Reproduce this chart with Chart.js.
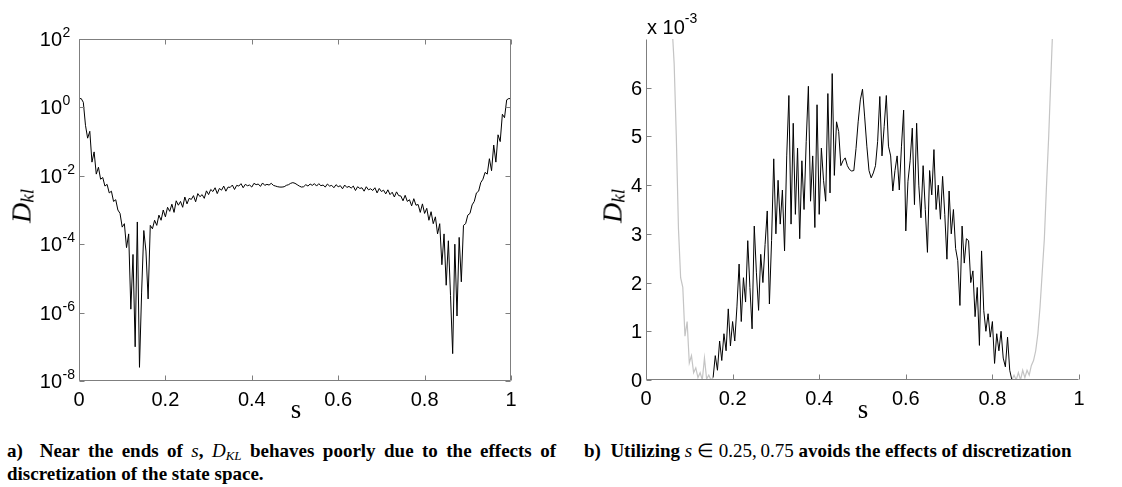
<!DOCTYPE html>
<html>
<head>
<meta charset="utf-8">
<script src="https://cdn.jsdelivr.net/npm/chart.js@4.4.1/dist/chart.umd.min.js"></script>
<style>
  body { margin: 0; background: #fff; width: 1122px; height: 487px; position: relative; overflow: hidden; }
  .panel { position: absolute; top: 0; width: 561px; height: 420px; }
  .ylab { position: absolute; font-family: "Liberation Serif", "Times New Roman", serif; font-size: 28px; line-height: 1;
          white-space: nowrap; transform: translate(-50%, -50%) rotate(-90deg); color: #000; }
  .ylab sub { font-size: 19px; font-style: italic; vertical-align: -3px; }
  .xlab { position: absolute; top: 396px; font-family: "Liberation Serif", "Times New Roman", serif; font-size: 27px;
          line-height: 1; transform: translateX(-50%); color: #000; }
  .cap { position: absolute; top: 442px; font-family: "Liberation Serif", "Times New Roman", serif; font-weight: bold;
         font-size: 19px; line-height: 18px; color: #000; white-space: nowrap; }
  .cap .m { font-weight: normal; }
  .cap sub { font-size: 13px; vertical-align: -3px; font-style: italic; }
  .just { text-align: justify; text-align-last: justify; }
</style>
</head>
<body>
<div class="panel" style="left:0"><canvas id="chartLeft" width="561" height="420"></canvas></div>
<div class="panel" style="left:561px"><canvas id="chartRight" width="561" height="420"></canvas></div>

<div class="ylab" style="left:22px; top:206px;"><i>D</i><sub>kl</sub></div>
<div class="ylab" style="left:613px; top:206px;"><i>D</i><sub>kl</sub></div>
<div class="xlab" style="left:296px;">s</div>
<div class="xlab" style="left:863px;">s</div>

<div class="cap" style="left:7px; width:549px;">
  <div class="just">a)&nbsp; Near the ends of <span class="m"><i>s</i></span>, <span class="m"><i>D</i><sub>KL</sub></span> behaves poorly due to the effects of</div>
  <div>discretization of the state space.</div>
</div>
<div class="cap" style="left:584px;">b)&nbsp; Utilizing <span class="m"><i>s</i> &isin; 0.25,&thinsp;0.75</span> avoids the effects of discretization</div>

<script>
// sample positions along s (shared by both panels)
const sGrid = [
  0.000, 0.005, 0.010, 0.015, 0.020, 0.025, 0.030, 0.035, 0.040, 0.045,
  0.050, 0.055, 0.060, 0.065, 0.070, 0.075, 0.080, 0.085, 0.090, 0.095,
  0.100, 0.105, 0.110, 0.115, 0.120, 0.125, 0.130, 0.135, 0.140, 0.145,
  0.150, 0.155, 0.160, 0.165, 0.170, 0.175, 0.180, 0.185, 0.190, 0.195,
  0.200, 0.205, 0.210, 0.215, 0.220, 0.225, 0.230, 0.235, 0.240, 0.245,
  0.250, 0.255, 0.260, 0.265, 0.270, 0.275, 0.280, 0.285, 0.290, 0.295,
  0.300, 0.305, 0.310, 0.315, 0.320, 0.325, 0.330, 0.335, 0.340, 0.345,
  0.350, 0.355, 0.360, 0.365, 0.370, 0.375, 0.380, 0.385, 0.390, 0.395,
  0.400, 0.405, 0.410, 0.415, 0.420, 0.425, 0.430, 0.435, 0.440, 0.445,
  0.450, 0.455, 0.460, 0.465, 0.470, 0.475, 0.480, 0.485, 0.490, 0.495,
  0.500, 0.505, 0.510, 0.515, 0.520, 0.525, 0.530, 0.535, 0.540, 0.545,
  0.550, 0.555, 0.560, 0.565, 0.570, 0.575, 0.580, 0.585, 0.590, 0.595,
  0.600, 0.605, 0.610, 0.615, 0.620, 0.625, 0.630, 0.635, 0.640, 0.645,
  0.650, 0.655, 0.660, 0.665, 0.670, 0.675, 0.680, 0.685, 0.690, 0.695,
  0.700, 0.705, 0.710, 0.715, 0.720, 0.725, 0.730, 0.735, 0.740, 0.745,
  0.750, 0.755, 0.760, 0.765, 0.770, 0.775, 0.780, 0.785, 0.790, 0.795,
  0.800, 0.805, 0.810, 0.815, 0.820, 0.825, 0.830, 0.835, 0.840, 0.845,
  0.850, 0.855, 0.860, 0.865, 0.870, 0.875, 0.880, 0.885, 0.890, 0.895,
  0.900, 0.905, 0.910, 0.915, 0.920, 0.925, 0.930, 0.935, 0.940, 0.945,
  0.950, 0.955, 0.960, 0.965, 0.970, 0.975, 0.980, 0.985, 0.990, 0.995,
  1.000
];

// panel a: D_kl over the whole state space (log axis)
const dklFull = [
  1.78, 1.82, 1.41, 0.3, 0.126, 0.2, 0.0251, 0.05, 0.0112, 0.0178,
  7.94e-3, 8.91e-3, 5.01e-3, 5.62e-3, 3.16e-3, 3.55e-3, 1.78e-3, 2.0e-3, 1.0e-3, 7.94e-4,
  3.16e-4, 3.98e-4, 7.94e-5, 2.0e-4, 1.26e-6, 5.01e-5, 1.0e-7, 4.47e-4, 2.51e-8, 3.98e-6,
  2.51e-4, 6.31e-5, 2.51e-6, 3.55e-4, 2.82e-4, 5.01e-4, 3.55e-4, 7.08e-4, 5.01e-4, 1.0e-3,
  6.31e-4, 1.2e-3, 9.12e-4, 1.48e-3, 8.51e-4, 1.86e-3, 1.38e-3, 1.78e-3, 1.2e-3, 2.4e-3,
  1.51e-3, 2.19e-3, 2.04e-3, 2.63e-3, 1.74e-3, 3.02e-3, 2.45e-3, 2.82e-3, 2.19e-3, 3.63e-3,
  2.82e-3, 3.98e-3, 3.47e-3, 4.47e-3, 3.02e-3, 4.27e-3, 3.8e-3, 5.01e-3, 3.55e-3, 4.68e-3,
  4.57e-3, 5.37e-3, 3.98e-3, 5.25e-3, 5.01e-3, 5.89e-3, 4.47e-3, 5.62e-3, 5.13e-3, 5.37e-3,
  4.68e-3, 6.03e-3, 5.5e-3, 5.75e-3, 4.9e-3, 6.17e-3, 5.25e-3, 5.62e-3, 5.37e-3, 6.03e-3,
  5.25e-3, 5.01e-3, 4.79e-3, 4.68e-3, 4.68e-3, 4.79e-3, 5.25e-3, 5.5e-3, 6.03e-3, 6.31e-3,
  6.03e-3, 5.5e-3, 5.01e-3, 4.68e-3, 4.79e-3, 5.5e-3, 5.01e-3, 5.75e-3, 5.25e-3, 5.89e-3,
  5.01e-3, 5.89e-3, 5.13e-3, 5.37e-3, 4.68e-3, 5.75e-3, 5.01e-3, 5.25e-3, 4.47e-3, 5.5e-3,
  4.79e-3, 5.13e-3, 4.17e-3, 5.37e-3, 4.57e-3, 4.9e-3, 4.37e-3, 5.01e-3, 3.72e-3, 4.79e-3,
  4.27e-3, 4.47e-3, 3.55e-3, 4.79e-3, 3.89e-3, 4.17e-3, 3.72e-3, 4.47e-3, 3.16e-3, 4.27e-3,
  3.47e-3, 3.8e-3, 2.95e-3, 3.89e-3, 2.82e-3, 3.31e-3, 2.4e-3, 3.39e-3, 2.63e-3, 2.57e-3,
  1.86e-3, 2.69e-3, 1.78e-3, 2.0e-3, 1.32e-3, 2.14e-3, 1.38e-3, 1.45e-3, 8.51e-4, 1.51e-3,
  7.94e-4, 1.12e-3, 5.01e-4, 8.91e-4, 3.98e-4, 6.31e-4, 2.0e-4, 3.98e-4, 2.51e-5, 2.0e-4,
  6.31e-6, 1.26e-4, 3.16e-6, 6.31e-8, 1.0e-4, 7.94e-7, 1.58e-4, 7.94e-6, 3.55e-4, 3.98e-4,
  7.08e-4, 7.94e-4, 1.41e-3, 1.78e-3, 3.16e-3, 3.55e-3, 6.31e-3, 7.94e-3, 0.0126, 0.0112,
  0.0316, 0.0141, 0.0794, 0.0251, 0.158, 0.1, 0.631, 0.5, 1.66, 1.82,
  1.78
];

// panel b: values in units of 1e-3
// grey part near s = 0 (sGrid index 10 .. 31)
const grayLowStart = 10;
const dklGrayLow = [
  9.5, 8.4, 7.3, 6.5, 5.0, 3.1, 2.1, 1.9, 0.9, 1.2,
  0.35, 0.5, 0.15, 0.25, 0.05, 0.15, 0.0, 0.45, 0.02, 0.1,
  0.0, 0.05
];
// black middle part (sGrid index 31 .. 169)
const blackStart = 31;
const dklMiddle = [
  0.05, 0.5, 0.2, 0.8, 0.4, 0.95, 0.6, 1.46, 0.7, 1.2,
  0.8, 1.5, 2.38, 1.2, 2.1, 1.6, 2.86, 1.9, 1.05, 3.16,
  2.2, 1.43, 2.58, 2.0, 2.78, 3.47, 1.56, 2.86, 4.54, 3.0,
  4.1, 3.2, 3.9, 2.65, 4.6, 5.84, 3.2, 5.27, 3.4, 4.76,
  2.9, 4.5, 3.5, 4.9, 6.03, 3.67, 4.6, 3.13, 5.65, 3.4,
  4.76, 4.1, 3.67, 5.88, 3.84, 6.29, 4.2, 5.3, 5.1, 4.4,
  4.5, 4.56, 4.4, 4.32, 4.29, 4.3, 4.75, 5.3, 5.75, 5.97,
  5.4, 4.8, 4.3, 4.15, 4.25, 4.4, 4.9, 5.82, 4.6, 5.2,
  5.84, 4.8, 4.6, 3.88, 4.3, 4.6, 3.9, 4.8, 5.54, 3.06,
  4.08, 4.5, 5.17, 3.6, 5.27, 4.0, 3.33, 4.4, 3.5, 2.62,
  4.3, 3.8, 4.73, 3.5, 4.0, 3.3, 4.18, 3.4, 2.48, 3.88,
  3.0, 3.5, 2.7, 2.45, 1.53, 3.16, 2.4, 2.9, 2.86, 2.0,
  2.24, 1.3, 1.9, 0.71, 2.65, 1.43, 1.0, 1.36, 0.88, 1.2,
  0.34, 0.95, 0.6, 1.0, 0.45, 0.27, 0.88, 0.2, 0.0
];
// grey part near s = 1 (sGrid index 169 .. 190)
const grayHighStart = 169;
const dklGrayHigh = [
  0.0, 0.1, 0.0, 0.15, 0.0, 0.2, 0.05, 0.2, 0.1, 0.3,
  0.4, 0.6, 0.95, 1.5, 2.2, 2.9, 4.0, 5.0, 6.2, 7.4,
  8.6, 9.8
];

const xTickVals = [0, 0.2, 0.4, 0.6, 0.8, 1];
const xTickLabels = ['0', '0.2', '0.4', '0.6', '0.8', '1'];
const logTickVals = [1e2, 1e0, 1e-2, 1e-4, 1e-6, 1e-8];
const logTickExps = ['2', '0', '-2', '-4', '-6', '-8'];
const linTickVals = [0, 1, 2, 3, 4, 5, 6];
const linTickLabels = ['0', '1', '2', '3', '4', '5', '6'];

const AXIS_GREY = '#7f7f7f';
const TICK_LEN = 5;
const TICK_FONT = '20px "Liberation Sans", Arial, sans-serif';
const EXP_FONT = '14px "Liberation Sans", Arial, sans-serif';

function toPoints(xs, ys, start) {
  return ys.map((v, i) => ({ x: xs[start + i], y: v }));
}

// MATLAB-like axes: inward ticks, grey frame, plain labels
const matlabAxes = {
  id: 'matlabAxes',
  afterDatasetsDraw(chart, args, opts) {
    const { ctx, chartArea: a } = chart;
    const xs = chart.scales.x, ys = chart.scales.y;
    const L = Math.round(a.left) + 0.5, R = Math.round(a.right) - 0.5;
    const T = Math.round(a.top) + 0.5, B = Math.round(a.bottom) - 0.5;
    ctx.save();
    ctx.strokeStyle = AXIS_GREY;
    ctx.lineWidth = 1;
    ctx.beginPath();
    ctx.moveTo(L, T); ctx.lineTo(L, B); ctx.lineTo(R, B);
    if (opts.box) { ctx.lineTo(R, T); ctx.lineTo(L, T); }
    ctx.stroke();

    ctx.beginPath();
    opts.xTicks.forEach(v => {
      const px = Math.round(xs.getPixelForValue(v)) + 0.5;
      ctx.moveTo(px, B); ctx.lineTo(px, B - TICK_LEN);
      if (opts.box) { ctx.moveTo(px, T); ctx.lineTo(px, T + TICK_LEN); }
    });
    opts.yTicks.forEach(v => {
      const py = Math.round(ys.getPixelForValue(v)) + 0.5;
      ctx.moveTo(L, py); ctx.lineTo(L + TICK_LEN, py);
      if (opts.box) { ctx.moveTo(R, py); ctx.lineTo(R - TICK_LEN, py); }
    });
    ctx.stroke();

    ctx.fillStyle = '#000';
    ctx.font = TICK_FONT;
    ctx.textBaseline = 'alphabetic';
    ctx.textAlign = 'center';
    opts.xTicks.forEach((v, i) => {
      ctx.fillText(opts.xLabels[i], xs.getPixelForValue(v), a.bottom + 25);
    });

    if (opts.yExps) {
      opts.yTicks.forEach((v, i) => {
        const py = ys.getPixelForValue(v);
        ctx.font = TICK_FONT;
        ctx.textAlign = 'right';
        ctx.fillText('10', a.left - 17, py + 7);
        ctx.font = EXP_FONT;
        ctx.textAlign = 'left';
        ctx.fillText(opts.yExps[i], a.left - 16.5, py - 2);
      });
    } else {
      ctx.textAlign = 'right';
      opts.yTicks.forEach((v, i) => {
        ctx.fillText(opts.yLabels[i], a.left - 4, ys.getPixelForValue(v) + 7);
      });
    }

    if (opts.multiplier) {
      ctx.textAlign = 'left';
      ctx.font = TICK_FONT;
      ctx.fillText('x 10', a.left + 1, 34);
      const w = ctx.measureText('x 10').width;
      ctx.font = EXP_FONT;
      ctx.fillText(opts.multiplier, a.left + 1 + w, 23);
    }
    ctx.restore();
  }
};

Chart.register(matlabAxes);

const common = {
  responsive: false,
  animation: false,
  devicePixelRatio: 1,
  events: [],
  elements: { point: { radius: 0 }, line: { borderWidth: 1, tension: 0 } }
};

new Chart(document.getElementById('chartLeft'), {
  type: 'line',
  data: {
    datasets: [{
      data: toPoints(sGrid, dklFull, 0),
      borderColor: '#000000',
      borderWidth: 1
    }]
  },
  options: {
    ...common,
    layout: { padding: { left: 79, right: 50, top: 39, bottom: 39 } },
    plugins: {
      legend: { display: false },
      tooltip: { enabled: false },
      matlabAxes: { box: true, xTicks: xTickVals, xLabels: xTickLabels, yTicks: logTickVals, yExps: logTickExps }
    },
    scales: {
      x: { type: 'linear', display: false, min: 0, max: 1 },
      y: { type: 'logarithmic', display: false, min: 1e-8, max: 1e2 }
    }
  }
});

new Chart(document.getElementById('chartRight'), {
  type: 'line',
  data: {
    datasets: [
      { data: toPoints(sGrid, dklMiddle, blackStart), borderColor: '#000000', borderWidth: 1 },
      { data: toPoints(sGrid, dklGrayLow, grayLowStart), borderColor: '#c4c4c4', borderWidth: 1.2 },
      { data: toPoints(sGrid, dklGrayHigh, grayHighStart), borderColor: '#c4c4c4', borderWidth: 1.2 }
    ]
  },
  options: {
    ...common,
    layout: { padding: { left: 85, right: 43, top: 39, bottom: 40 } },
    plugins: {
      legend: { display: false },
      tooltip: { enabled: false },
      matlabAxes: { box: false, xTicks: xTickVals, xLabels: xTickLabels, yTicks: linTickVals, yLabels: linTickLabels, multiplier: '-3' }
    },
    scales: {
      x: { type: 'linear', display: false, min: 0, max: 1 },
      y: { type: 'linear', display: false, min: 0, max: 7 }
    }
  }
});
</script>
</body>
</html>
